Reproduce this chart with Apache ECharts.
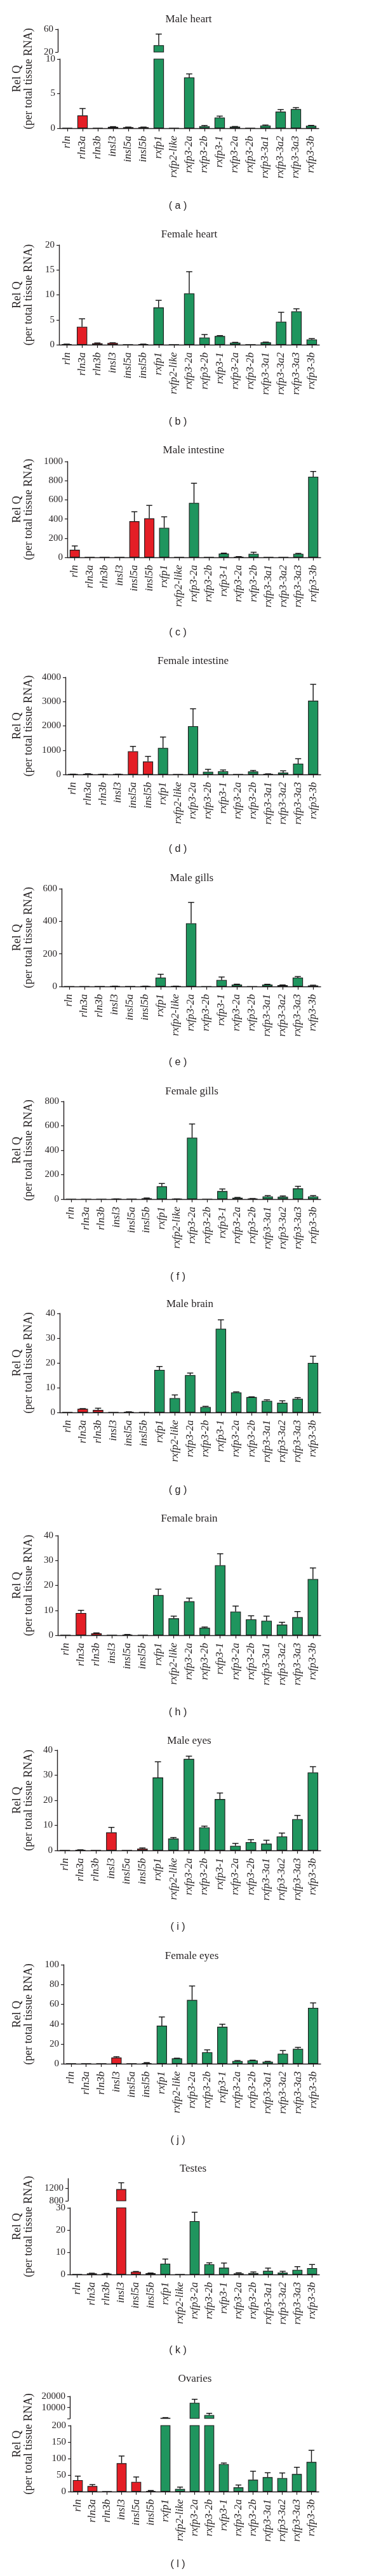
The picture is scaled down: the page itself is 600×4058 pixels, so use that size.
<!DOCTYPE html>
<html><head><meta charset="utf-8">
<script src="https://cdn.jsdelivr.net/npm/echarts@6/dist/echarts.min.js"></script>
<style>html,body{margin:0;padding:0;background:#fff}#c{width:600px;height:4058px}</style>
</head><body><div id="c"></div>
<script>
// ---------- DATA ----------
const categories = ['rln','rln3a','rln3b','insl3','insl5a','insl5b','rxfp1','rxfp2-like','rxfp3-2a','rxfp3-2b','rxfp3-1','rxfp3-2a','rxfp3-2b','rxfp3-3a1','rxfp3-3a2','rxfp3-3a3','rxfp3-3b'];
const ligandCount = 6; // first six are ligands (red), the rest receptors (green)

const maleHeartMean = [0.05,1.85,0.05,0.2,0.15,0.15,32,0.05,7.35,0.3,1.54,0.22,0.05,0.4,2.4,2.77,0.37];
const maleHeartErr  = [0,1.0,0,0.03,0.02,0.02,19.5,0,0.5,0.1,0.21,0.03,0,0.06,0.3,0.21,0.04];
const maleHeartUpperTicks = [20,60];

const femaleHeartMean = [0.1,3.6,0.3,0.34,0.05,0.1,7.47,0.03,10.3,1.44,1.74,0.42,0.03,0.47,4.63,6.7,1.06];
const femaleHeartErr  = [0.02,1.6,0.05,0.05,0,0.02,1.43,0,4.35,0.6,0.09,0.05,0,0.05,1.87,0.5,0.17];

const maleIntestineMean = [79,1,1,1,377,407,308,1,568,1,40,5,37,2,1,37,841];
const maleIntestineErr  = [40,0,0,0,99,135,115,0,205,0,4,3,16,0,0,5,55];

const femaleIntestineMean = [10,20,8,10,954,534,1094,5,1987,114,131,5,123,20,79,446,3037];
const femaleIntestineErr  = [3,8,2,3,201,210,446,0,718,96,53,0,43,5,70,202,674];

const maleGillsMean = [0.5,0.5,0.8,1.5,0.8,1.5,54.5,1.5,388,0.5,40,12,0.5,12,8,55,6];
const maleGillsErr  = [0,0,0,0.5,0,0.5,20.5,0.5,128,0,18,2,0,1.5,1.5,6,2];

const femaleGillsMean = [0.5,0.5,0.5,1.5,1,7,105,1.5,503,0.5,66,12,4,22,19,88,22];
const femaleGillsErr  = [0,0,0,0.5,0,2.5,23,0.5,112,0,17,2,1,7,7,17,7];

const maleBrainMean = [0.05,1.45,1.0,0.05,0.2,0.05,17.2,5.8,15.06,2.2,33.8,8.1,6.2,4.7,3.9,5.5,20.0];
const maleBrainErr  = [0,0.1,0.7,0,0.05,0,1.35,1.26,0.84,0.27,3.6,0.2,0.1,0.4,0.8,0.5,2.7];

const femaleBrainMean = [0.05,8.94,0.77,0.05,0.25,0.1,16.1,6.8,13.6,2.98,28.1,9.5,6.4,5.8,4.26,7.23,22.55];
const femaleBrainErr  = [0,1.06,0.17,0,0.05,0,2.4,0.86,1.3,0.32,4.6,2.2,1.4,1.86,0.94,2.27,4.45];

const maleEyesMean = [0.1,0.2,0.1,7.2,0.1,0.68,29.1,4.74,36.5,9.2,20.5,1.86,3.3,2.7,5.58,12.5,31.1];
const maleEyesErr  = [0,0.05,0,2.0,0,0.32,6.25,0.42,1.1,0.5,2.4,0.94,1.0,1.36,1.35,1.45,2.3];

const femaleEyesMean = [0.2,0.2,0.1,6.2,0.1,0.65,38.4,5.4,64.4,11.6,37.3,2.8,3.4,2.1,10.1,15.0,56.4];
const femaleEyesErr  = [0,0,0,0.9,0,0.45,8.8,0.2,14.1,2.4,2.6,0.4,0.2,0.3,3.2,1.5,5.0];

const testesMean = [0.05,0.48,0.38,1179,1.24,0.57,4.86,0.1,24.0,4.57,3.05,0.48,0.67,1.62,0.86,2.1,2.86];
const testesErr  = [0,0.1,0.1,207,0.1,0.1,2.09,0,4.0,0.67,2.09,0.28,0.47,1.24,0.57,1.42,1.62];
const testesUpperTicks = [800,1200];

const ovariesMean = [34.6,16.7,0.6,85.9,29.5,1.9,900,8.3,14200,3300,83.3,12.8,35.9,43.6,41,53.2,89.7];
const ovariesErr  = [12.2,4.5,0,21.8,14.7,1.3,150,5.2,3200,1600,3.2,7.1,25.6,13.4,15.4,20.5,35.3];
const ovariesUpperTickMarks = [200,10000,20000];
const ovariesUpperTickLabels = [10000,20000];

const titles = ['Male heart','Female heart','Male intestine','Female intestine','Male gills','Female gills','Male brain','Female brain','Male eyes','Female eyes','Testes','Ovaries'];
const letters = ['a','b','c','d','e','f','g','h','i','j','k','l'];
const yNameLine1 = 'Rel Q';
const yNameLine2 = '(per total tissue RNA)';

// ---------- LAYOUT ----------
const RED = '#E41E26', GREEN = '#1F955E', INK = '#231f20';
const SERIF = "'Liberation Serif', 'Times New Roman', serif";
const plain = (v) => String(v);

const panels = [
  {mean: maleHeartMean, err: maleHeartErr, left:94, width:408, top:93, height:109, max:10, interval:5,
   upper:{top:46, height:36, min:20, max:60, ticks:maleHeartUpperTicks, labels:maleHeartUpperTicks, offset:3},
   tx:297, ty:31, ly:325},
  {mean: femaleHeartMean, err: femaleHeartErr, left:93, width:410, top:386, height:157, max:20, interval:5, tx:298, ty:370, ly:665},
  {mean: maleIntestineMean, err: maleIntestineErr, left:106, width:399, top:727, height:151, max:1000, interval:200, tx:305, ty:710, ly:997},
  {mean: femaleIntestineMean, err: femaleIntestineErr, left:103, width:402, top:1067, height:153, max:4000, interval:1000, tx:304, ty:1042, ly:1338},
  {mean: maleGillsMean, err: maleGillsErr, left:97, width:408, top:1400, height:154, max:600, interval:200, tx:302, ty:1384, ly:1674},
  {mean: femaleGillsMean, err: femaleGillsErr, left:100, width:405, top:1735, height:154, max:800, interval:200, tx:302, ty:1720, ly:2012},
  {mean: maleBrainMean, err: maleBrainErr, left:94, width:411, top:2069, height:156, max:40, interval:10, tx:299, ty:2055, ly:2348},
  {mean: femaleBrainMean, err: femaleBrainErr, left:91, width:414, top:2419, height:157, max:40, interval:10, tx:298, ty:2393, ly:2698},
  {mean: maleEyesMean, err: maleEyesErr, left:90, width:415, top:2757, height:158, max:40, interval:10, tx:298, ty:2743, ly:3036},
  {mean: femaleEyesMean, err: femaleEyesErr, left:100, width:405, top:3095, height:156, max:100, interval:20, tx:302, ty:3082, ly:3372},
  {mean: testesMean, err: testesErr, left:110, width:393, top:3478, height:105, max:30, interval:10,
   upper:{top:3432, height:35, min:800, max:1520, ticks:testesUpperTicks, labels:testesUpperTicks, offset:3},
   tx:304, ty:3417, ly:3703},
  {mean: ovariesMean, err: ovariesErr, left:111, width:391, top:3821, height:104, max:200, interval:50,
   upper:{top:3775, height:35, min:200, max:20000, ticks:ovariesUpperTickMarks, labels:ovariesUpperTickLabels, offset:1},
   tx:307, ty:3748, ly:4040}
];

const grid = [], xAxis = [], yAxis = [], series = [], graphic = [];

function addGrid(left, width, top, height, showX) {
  const idx = grid.length;
  grid.push({left, top, width, height, outerBoundsMode:'none', containLabel:false});
  xAxis.push({
    type:'category', gridIndex: idx, data: categories, show: showX,
    axisLine:{show:true, lineStyle:{color:INK, width:1.4}},
    axisTick:{show:true, alignWithLabel:true, length:5, lineStyle:{color:INK, width:1.2}},
    axisLabel:{show:true, interval:0, rotate:90, margin:12, fontFamily:SERIF, fontStyle:'italic', fontSize:17, color:INK},
    splitLine:{show:false}
  });
  return idx;
}

function barSeries(idx, mean) {
  return {
    type:'bar', xAxisIndex:idx, yAxisIndex:idx, data: mean, barWidth:'68%', clip:true, silent:true,
    itemStyle:{color:(p)=> p.dataIndex < ligandCount ? RED : GREEN, borderColor:'#1a1a1a', borderWidth:1.1}
  };
}

function errSeries(idx, mean, err, lo, hi) {
  return {
    type:'custom', xAxisIndex:idx, yAxisIndex:idx, silent:true, z:3,
    data: mean.map((m,i)=>[i, m, err[i]]),
    encode:{x:0, y:1},
    renderItem(params, api) {
      const i = api.value(0), m = api.value(1), e = api.value(2);
      if (!(e > 0) || m < lo || m > hi) return null;
      const p0 = api.coord([i, m]); const p1 = api.coord([i, m + e]);
      const half = api.size([1,0])[0] * 0.2;
      const st = {stroke:'#111', lineWidth:1.4};
      return {type:'group', children:[
        {type:'line', shape:{x1:p0[0], y1:p0[1], x2:p1[0], y2:p1[1]}, style:st},
        {type:'line', shape:{x1:p1[0]-half, y1:p1[1], x2:p1[0]+half, y2:p1[1]}, style:st}
      ]};
    }
  };
}

function txt(x, y, text, size, family, extra) {
  return Object.assign({
    type:'text', x, y, silent:true,
    style:{text, fill:INK, fontSize:size, fontFamily:family, align:'center', verticalAlign:'middle', textAlign:'center', textVerticalAlign:'middle'}
  }, extra || {});
}

panels.forEach((p, k) => {
  const li = addGrid(p.left, p.width, p.top, p.height, true);
  yAxis.push({
    type:'value', gridIndex:li, min:0, max:p.max, interval:p.interval,
    axisLine:{show:true, lineStyle:{color:INK, width:1.4}},
    axisTick:{show:true, length:4, lineStyle:{color:INK, width:1.2}},
    axisLabel:{fontFamily:SERIF, fontSize:15, color:INK, margin:7, formatter:plain},
    splitLine:{show:false}
  });
  series.push(barSeries(li, p.mean));
  series.push(errSeries(li, p.mean, p.err, -Infinity, p.max));
  let topY = p.top;
  if (p.upper) {
    const u = p.upper;
    const ui = addGrid(p.left, p.width, u.top, u.height, false);
    yAxis.push({
      type:'value', gridIndex:ui, min:u.min, max:u.max, offset:u.offset,
      axisLine:{show:true, lineStyle:{color:INK, width:1.4}},
      axisTick:{show:true, length:4, customValues:u.ticks, lineStyle:{color:INK, width:1.2}},
      axisLabel:{fontFamily:SERIF, fontSize:15, color:INK, margin:7, customValues:u.labels, formatter:plain},
      splitLine:{show:false}
    });
    series.push(barSeries(ui, p.mean));
    series.push(errSeries(ui, p.mean, p.err, u.min, Infinity));
    topY = u.top;
  }
  const midY = (topY + p.top + p.height) / 2;
  graphic.push(txt(p.tx, p.ty, titles[k], 17, SERIF));
  graphic.push(txt(27, midY, yNameLine1, 18, SERIF, {rotation: Math.PI/2}));
  graphic.push(txt(45, midY, yNameLine2, 18, SERIF, {rotation: Math.PI/2}));
  graphic.push(txt(280, p.ly, '( ' + letters[k] + ' )', 16, "'Liberation Sans', Arial, sans-serif"));
});

const chart = echarts.init(document.getElementById('c'), null, {renderer:'canvas'});
chart.setOption({animation:false, backgroundColor:'#fff', grid, xAxis, yAxis, series, graphic});
</script></body></html>
